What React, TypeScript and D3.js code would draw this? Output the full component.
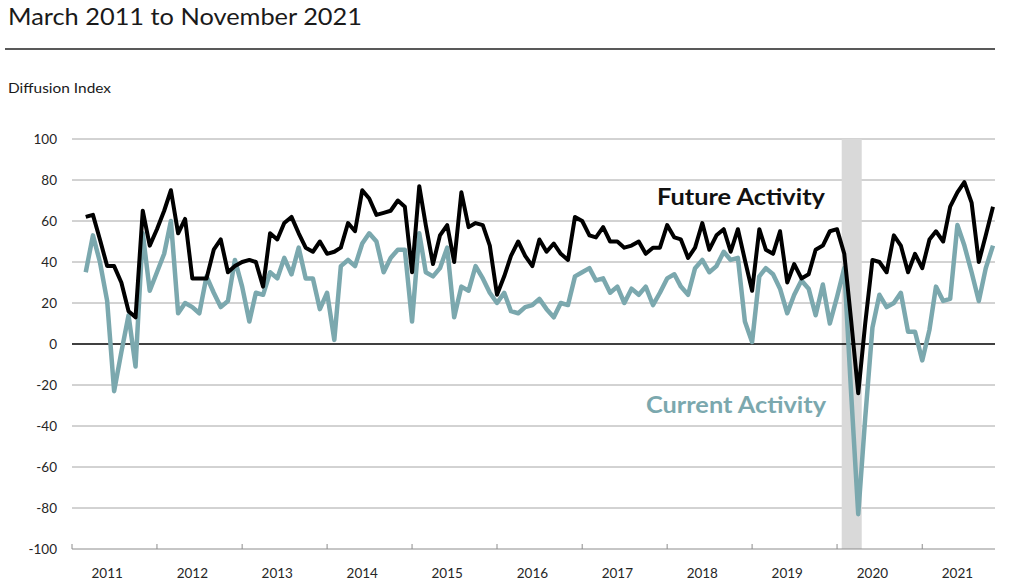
import { useMemo } from "react";
import * as d3 from "d3";

// ----- Data (monthly, March 2011 – November 2021) -------------------------
const startMonth = new Date(2011, 2, 1);

const futureActivity = [
  62, 63, 51, 38, 38, 30, 16, 13, 65, 48, // 2011
  56, 65, 75, 54, 61, 32, 32, 32, 46, 51, 35, 38, // 2012
  40, 41, 40, 28, 54, 51, 59, 62, 54, 47, 45, 50, // 2013
  44, 45, 47, 59, 55, 75, 71, 63, 64, 65, 70, 67, // 2014
  35, 77, 58, 39, 53, 58, 40, 74, 57, 59, 58, 48, // 2015
  24, 33, 43, 50, 43, 38, 51, 45, 49, 44, 41, 62, // 2016
  60, 53, 52, 57, 50, 50, 47, 48, 50, 44, 47, 47, // 2017
  58, 52, 51, 42, 47, 59, 46, 53, 56, 45, 56, 41, // 2018
  26, 56, 46, 44, 55, 30, 39, 32, 34, 46, 48, 55, // 2019
  56, 44, 12, -24, 10, 41, 40, 35, 53, 48, 35, 44, // 2020
  37, 51, 55, 50, 67, 74, 79, 69, 40, 53, 67, // 2021
];

const currentActivity = [
  35, 53, 40, 21, -23, -4, 14, -11, 54, 26, // 2011
  35, 44, 60, 15, 20, 18, 15, 33, 25, 18, 21, 41, // 2012
  28, 11, 25, 24, 35, 32, 42, 34, 47, 32, 32, 17, // 2013
  25, 2, 38, 41, 38, 49, 54, 50, 35, 42, 46, 46, // 2014
  11, 54, 35, 33, 37, 47, 13, 28, 26, 38, 32, 25, // 2015
  20, 25, 16, 15, 18, 19, 22, 17, 13, 20, 19, 33, // 2016
  35, 37, 31, 32, 25, 28, 20, 27, 24, 28, 19, 25, // 2017
  32, 34, 28, 24, 37, 41, 35, 38, 45, 41, 42, 11, // 2018
  1, 33, 37, 34, 27, 15, 24, 31, 27, 14, 29, 10, // 2019
  23, 37, -23, -83, -36, 8, 24, 18, 20, 25, 6, 6, // 2020
  -8, 7, 28, 21, 22, 58, 48, 35, 21, 37, 48, // 2021
];

const months = futureActivity.map(
  (_, i) => new Date(startMonth.getFullYear(), startMonth.getMonth() + i, 1),
);

const yTicks = [100, 80, 60, 40, 20, 0, -20, -40, -60, -80, -100];
const yearLabels = [2011, 2012, 2013, 2014, 2015, 2016, 2017, 2018, 2019, 2020, 2021];

// recession shading (Feb – Apr 2020)
const recession = [new Date(2020, 0, 21), new Date(2020, 3, 16)];

const BLACK = "#000000";
const TEAL = "#7ba8ae";
const FONT = "Lato, 'Open Sans', sans-serif";

export default function App() {
  const width = 1024;
  const height = 586;
  const plot = { left: 72, right: 995, top: 139, bottom: 549 };

  const x = useMemo(
    () =>
      d3
        .scaleTime()
        .domain([new Date(2011, 0, 1), new Date(2021, 10, 1)])
        .range([plot.left, 993]),
    [],
  );
  const y = useMemo(
    () => d3.scaleLinear().domain([-100, 100]).range([plot.bottom, plot.top]),
    [],
  );

  const line = (vals: number[]) =>
    d3
      .line<number>()
      .x((_, i) => x(months[i]))
      .y((d) => y(d))(vals) ?? "";

  return (
    <svg
      width={width}
      height={height}
      style={{ position: "absolute", left: 0, top: 0, background: "#fff" }}
      fontFamily={FONT}
    >
      {/* title */}
      <text x={8} y={25} fontSize={23} fill="#1a1a1a" textLength={354} lengthAdjust="spacingAndGlyphs">
        March 2011 to November 2021
      </text>
      <line x1={5} x2={995} y1={49} y2={49} stroke="#595959" strokeWidth={2} />
      <text x={8} y={93} fontSize={13} fill="#1a1a1a" textLength={103} lengthAdjust="spacingAndGlyphs">
        Diffusion Index
      </text>

      {/* gridlines */}
      {yTicks
        .filter((t) => t !== 0 && t !== -100)
        .map((t) => (
          <line key={t} x1={plot.left} x2={plot.right} y1={y(t)} y2={y(t)} stroke="#a6a6a6" strokeWidth={1} />
        ))}

      {/* recession shade */}
      <rect
        x={x(recession[0])}
        y={plot.top}
        width={x(recession[1]) - x(recession[0])}
        height={plot.bottom - plot.top}
        fill="#d9d9d9"
      />

      {/* bottom axis */}
      <line x1={plot.left} x2={plot.right} y1={y(-100)} y2={y(-100)} stroke="#8c8c8c" strokeWidth={1} />
      {yearLabels.map((yr) => (
        <line
          key={yr}
          x1={x(new Date(yr, 0, 1))}
          x2={x(new Date(yr, 0, 1))}
          y1={y(-100) - 5}
          y2={y(-100)}
          stroke="#8c8c8c"
          strokeWidth={1}
        />
      ))}
      {yearLabels.map((yr) => (
        <text key={yr} x={x(new Date(yr, 5, 1))} y={578} fontSize={13.5} textAnchor="middle" fill="#262626">
          {yr}
        </text>
      ))}

      {/* y tick labels */}
      {yTicks.map((t) => (
        <text key={t} x={57} y={y(t) + 5} fontSize={13.5} textAnchor="end" fill="#262626">
          {t}
        </text>
      ))}

      {/* zero line */}
      <line x1={plot.left} x2={plot.right} y1={y(0)} y2={y(0)} stroke="#000" strokeWidth={1.5} />

      {/* series */}
      <path d={line(currentActivity)} fill="none" stroke={TEAL} strokeWidth={4.5} strokeLinejoin="round" />
      <path d={line(futureActivity)} fill="none" stroke={BLACK} strokeWidth={4} strokeLinejoin="round" />

      {/* labels */}
      <text x={657} y={205} fontSize={23} fontWeight="bold" fill="#111" textLength={168} lengthAdjust="spacingAndGlyphs">
        Future Activity
      </text>
      <text x={646} y={413} fontSize={23} fontWeight="bold" fill={TEAL} textLength={180} lengthAdjust="spacingAndGlyphs">
        Current Activity
      </text>
    </svg>
  );
}
